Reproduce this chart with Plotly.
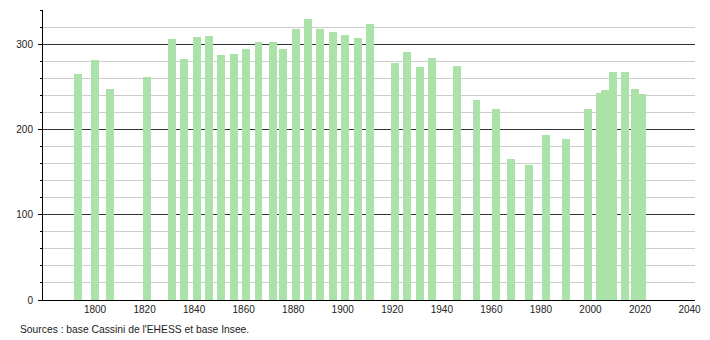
import plotly.graph_objects as go

years = [1793, 1800, 1806, 1821, 1831, 1836, 1841, 1846, 1851, 1856,
         1861, 1866, 1872, 1876, 1881, 1886, 1891, 1896, 1901, 1906,
         1911, 1921, 1926, 1931, 1936, 1946, 1954, 1962, 1968, 1975,
         1982, 1990, 1999, 2004, 2006, 2009, 2014, 2018, 2021]
population = [265, 281, 247, 261, 306, 282, 308, 309, 287, 288,
              294, 302, 302, 294, 318, 329, 318, 314, 311, 307,
              324, 278, 291, 273, 284, 274, 235, 224, 165, 158,
              193, 189, 224, 243, 246, 267, 267, 247, 241]

x_ticks = list(range(1800, 2041, 20))
source_text = "Sources : base Cassini de l'EHESS et base Insee."

bar_color = "rgb(170,226,170)"

fig = go.Figure()
fig.add_trace(go.Bar(
    x=years, y=population, width=3.2,
    marker=dict(color=bar_color, line=dict(width=0)),
    hoverinfo="x+y",
))

fig.update_layout(
    width=710, height=340,
    margin=dict(l=43, r=9, t=10, b=40),
    paper_bgcolor="white", plot_bgcolor="white",
    showlegend=False,
    font=dict(family="Liberation Sans, Arial, sans-serif", size=10, color="#222"),
    xaxis=dict(
        range=[1779, 2042.2],
        tickmode="array", tickvals=x_ticks,
        ticktext=[str(v) for v in x_ticks],
        showgrid=False, zeroline=False,
        showline=True, linecolor="black", linewidth=1,
        ticks="", tickfont=dict(size=10, color="#222"),
    ),
    yaxis=dict(
        range=[0, 340],
        tickmode="linear", tick0=0, dtick=100,
        showgrid=True, gridcolor="#333", gridwidth=1,
        zeroline=False,
        showline=True, linecolor="black", linewidth=1,
        ticks="outside", ticklen=4, tickcolor="black",
        ticklabelstandoff=3,
        tickfont=dict(size=10, color="#222"),
        minor=dict(dtick=20, showgrid=True, gridcolor="#cccccc",
                   ticks="outside", ticklen=2, tickcolor="black"),
    ),
    bargap=0,
)

fig.add_annotation(
    text=source_text, xref="paper", yref="paper",
    x=-0.038, y=-0.1, xanchor="left", yanchor="middle",
    showarrow=False, font=dict(size=10.3, color="#222"),
)

fig.write_html("out.html")
